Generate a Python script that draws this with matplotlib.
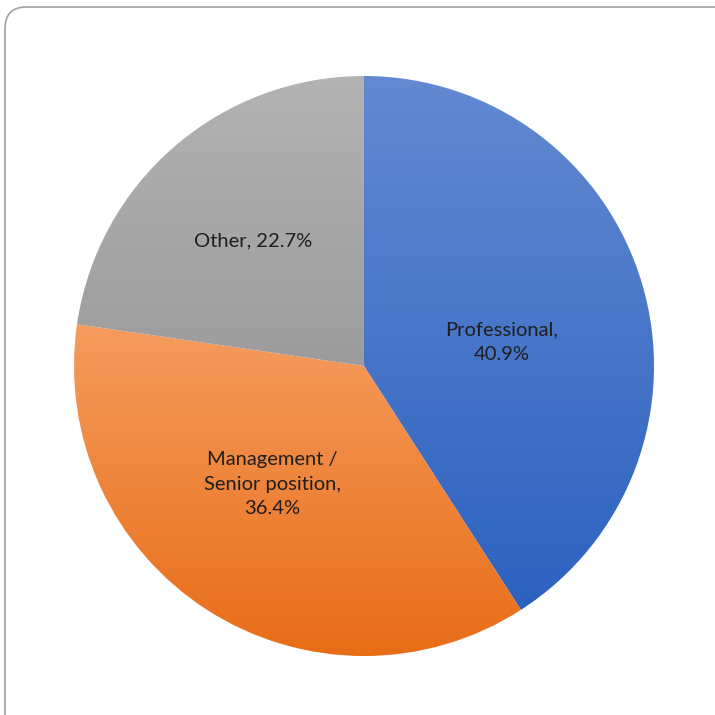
import numpy as np
import matplotlib
matplotlib.use("Agg")
import matplotlib.pyplot as plt
from matplotlib.patches import FancyBboxPatch
from matplotlib.colors import LinearSegmentedColormap

categories = ["Professional", "Management /\nSenior position", "Other"]
shares = [40.9, 36.4, 22.7]
# where the share goes relative to the category name
label_sep = [",\n", ",\n", ", "]
# top / bottom colours of each slice's vertical gradient
top_colors = ["#6389d2", "#f59c5e", "#b3b3b3"]
bottom_colors = ["#2c62bf", "#e86d17", "#9c9c9c"]
# label placement (radius fraction, angle in degrees)
label_polar = [(0.483, 9.9), (0.516, -127.9), (0.576, 131.6)]

W = H = 715
fig = plt.figure(figsize=(W / 100, H / 100), dpi=100)
fig.patch.set_facecolor("white")

# rounded frame around the chart area
frame = FancyBboxPatch((5 / W, -0.05), 1.2, 1 - 7 / H + 0.05,
                       boxstyle="round,pad=0,rounding_size=0.03",
                       transform=fig.transFigure, facecolor="none",
                       edgecolor="#a0a0a0", linewidth=1.2, zorder=0)
fig.patches.append(frame)

cx, cy, r = 364, 366, 290
ax = fig.add_axes([(cx - r) / W, (H - cy - r) / H, 2 * r / W, 2 * r / H])
wedges, _ = ax.pie(shares, startangle=90, counterclock=False, radius=1,
                   wedgeprops=dict(linewidth=0))
ax.axis("off")

grad = np.linspace(0, 1, 256).reshape(-1, 1)
for w, c0, c1 in zip(wedges, top_colors, bottom_colors):
    w.set_facecolor("none")
    verts = w.get_patch_transform().transform(w.get_path().vertices)
    x0, y0 = verts.min(axis=0)
    x1, y1 = verts.max(axis=0)
    cmap = LinearSegmentedColormap.from_list("g", [c0, c1])
    im = ax.imshow(grad, cmap=cmap, extent=[x0, x1, y0, y1], aspect="auto",
                   interpolation="bilinear", zorder=1)
    im.set_clip_path(w)
ax.set_xlim(-1, 1)
ax.set_ylim(-1, 1)
ax.set_aspect("equal")

for name, val, sep, (rr, ang) in zip(categories, shares, label_sep, label_polar):
    a = np.deg2rad(ang)
    ax.text(rr * np.cos(a), rr * np.sin(a), f"{name}{sep}{val}%",
            ha="center", va="center", fontsize=14.5, family="Lato",
            color="#1e1e1e", linespacing=1.55, zorder=3)

fig.savefig("out.png", dpi=100, facecolor="white")
